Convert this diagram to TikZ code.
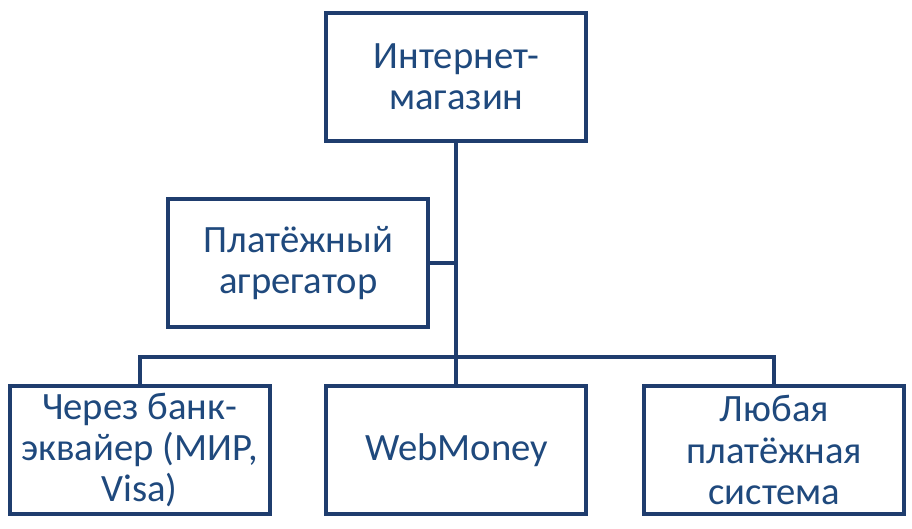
\documentclass[tikz,border=0pt]{standalone}
\usepackage{fontspec}
\setmainfont{Carlito}
\definecolor{boxline}{RGB}{31,61,110}
\definecolor{boxtext}{RGB}{31,73,125}

\begin{document}
\begin{tikzpicture}[
  unit/.style={draw=boxline, line width=2.85pt, fill=white, text=boxtext,
    minimum width=6.5cm, minimum height=3.18cm, align=center, inner sep=0pt,
    font=\fontsize{27.5}{29.5}\selectfont},
  link/.style={draw=boxline, line width=2.85pt}]
\useasboundingbox (0,0) rectangle (22.8,13.225);
\node[unit] (shop) at (11.41,11.3) {Интернет-\\магазин};
\node[unit] (aggr) at (7.46,6.65) {Платёжный\\агрегатор};
\node[unit] (bank) at (3.49,1.975) {Через банк-\\эквайер (МИР,\\Visa)};
\node[unit] (wm) at (11.41,1.975) {WebMoney};
\node[unit] (any) at (19.36,1.975) {Любая\\платёжная\\система};
\coordinate (bus) at (11.41,4.3);
\draw[link] (shop.south) -- (bus) -- (wm.north);
\draw[link] (aggr.east) -- (aggr.east -| shop.south);
\draw[link] (bank.north) |- (bus) -| (any.north);
\end{tikzpicture}
\end{document}
